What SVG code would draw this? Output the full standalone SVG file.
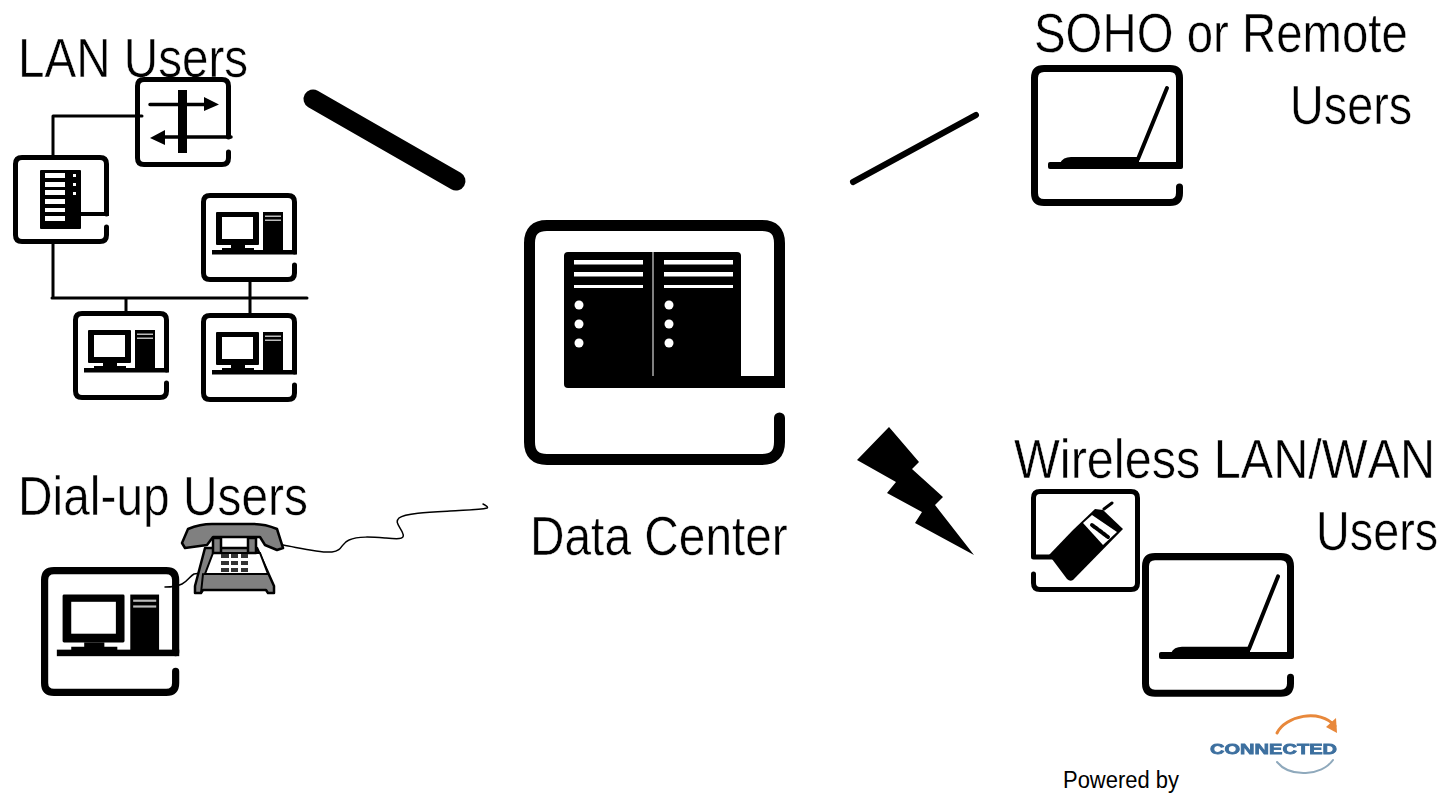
<svg xmlns="http://www.w3.org/2000/svg" width="1446" height="796" viewBox="0 0 1446 796">
<style>
text{font-family:"Liberation Sans",Arial,sans-serif;fill:#000;font-size:56px;font-kerning:none}
.t{stroke:#fff;stroke-width:.5}
.f{fill:none;stroke:#000;stroke-linecap:round;stroke-linejoin:round}
.k{fill:#000}
.w{fill:#fff}
.g{fill:#808080;stroke:#000;stroke-width:2.500;stroke-linejoin:round}
</style>
<defs>
<filter id="soft" x="-10%" y="-10%" width="120%" height="120%"><feGaussianBlur stdDeviation="0.6"/></filter>
<g id="pc">
<path class="f" stroke-width="5" d="M93.5 72V80Q93.5 86.5 87 86.5H9Q2.5 86.5 2.5 80V9Q2.5 2.5 9 2.5H87Q93.5 2.5 93.5 9V59"/>
<rect class="k" x="11" y="57" width="85" height="4.500"/>
<rect class="k" x="15" y="19" width="43" height="33" rx="1"/>
<rect class="w" x="21" y="24" width="31" height="22"/>
<rect class="k" x="62" y="19" width="20" height="40"/>
<rect x="64" y="22.500" width="16" height="1.500" fill="#bbb"/>
<rect x="64" y="26.500" width="16" height="1.500" fill="#bbb"/>
<rect class="k" x="30" y="52" width="14" height="6"/>
<rect class="k" x="21" y="55" width="32" height="3"/>
</g>
<g id="laptop">
<path class="f" stroke-width="7" d="M148.500 122V128Q148.500 137.500 139 137.500H13Q3.500 137.500 3.500 128V13Q3.500 3.500 13 3.500H139Q148.500 3.500 148.500 13V100"/>
<rect class="k" x="17" y="97" width="135" height="7" rx="2"/>
<path class="k" d="M29 98Q32 92 40 92H108V98Z"/>
<path class="f" stroke-width="4" stroke-linecap="butt" d="M107 94L136 23"/>
</g>
</defs>

<g id="connectors">
<path class="f" stroke-width="19" d="M313 99L456 181"/>
<path class="f" stroke-width="6" d="M853 182L976 115"/>
<path class="k" d="M889 427L919 462L912 469L943 497L935 505L974 555L915 523L922 512L887 493L896 482L857 460Z"/>
<path class="f" stroke-width="1.500" d="M283 545C300 548 320 553 332 552C343 551 341 543 349 540C358 536 372 537 385 538C396 539 405 540 403 534C401 527 394 523 399 518C405 513 430 512 450 511C465 510 480 510 487 508Q489 507 483 504"/>
<path class="f" stroke-width="1.500" d="M165 587C172 587 178 586 182 584C188 581 190 576 194 574L201 573"/>
<path class="f" stroke-width="3" stroke-linecap="butt" d="M142 116H53V155M53 244V298M52 298H307M126 298V311M250 282V313"/>
</g>

<g id="lan-users">
<text class="t" transform="translate(18 77) scale(.85 1)">LAN Users</text>
</g>

<g id="switch">
<path class="f" stroke-width="5" d="M228.500 152V158Q228.500 164.500 222 164.500H144Q137.500 164.500 137.500 158V86Q137.500 79.500 144 79.500H222Q228.500 79.500 228.500 86V137"/>
<rect class="k" x="178" y="90" width="9" height="63"/>
<path class="f" stroke-width="3.500" stroke-linecap="butt" d="M150 104.500H205M231 137H165"/>
<path class="k" d="M204 97L219 104.500L204 111ZM165 130L150 138L165 145Z"/>
</g>

<g id="server">
<path class="f" stroke-width="5" d="M106.500 227V235Q106.500 241.500 100 241.500H22Q15.500 241.500 15.500 235V164Q15.500 157.500 22 157.500H100Q106.500 157.500 106.500 164V214"/>
<rect class="k" x="40" y="170" width="41" height="59" rx="1"/>
<rect class="k" x="80" y="212" width="29" height="4"/>
<g class="w">
<rect x="45" y="173" width="20" height="5"/>
<rect x="45" y="182" width="20" height="5"/>
<rect x="45" y="190" width="20" height="5"/>
<rect x="45" y="199" width="20" height="5"/>
<rect x="45" y="208" width="20" height="4"/>
<rect x="45" y="216" width="20" height="5"/>
<rect x="73" y="174" width="3" height="3"/>
<rect x="73" y="183" width="3" height="3"/>
<rect x="73" y="192" width="3" height="3"/>
</g>
</g>

<use id="pc-1" href="#pc" transform="translate(201 193)"/>
<use id="pc-2" href="#pc" transform="translate(73 311)"/>
<use id="pc-3" href="#pc" transform="translate(201 313)"/>

<g id="data-center">
<path class="f" stroke-width="11" d="M779.500 418V442Q779.500 459.500 762 459.500H547Q529.500 459.500 529.500 442V243Q529.500 225.500 547 225.500H762Q779.500 225.500 779.500 243V382"/>
<rect class="k" x="564" y="252" width="177" height="136" rx="4"/>
<rect class="k" x="735" y="376" width="50" height="12"/>
<rect class="w" x="652.500" y="252" width="1" height="124"/>
<g class="w">
<rect x="574" y="260" width="69" height="4.500"/>
<rect x="574" y="272" width="69" height="4.500"/>
<rect x="574" y="285" width="69" height="3"/>
<rect x="664" y="260" width="69" height="4.500"/>
<rect x="664" y="272" width="69" height="4.500"/>
<rect x="664" y="285" width="69" height="3"/>
<circle cx="579" cy="305" r="4.500"/>
<circle cx="579" cy="324" r="4.500"/>
<circle cx="579" cy="343" r="4.500"/>
<circle cx="669" cy="305" r="4.500"/>
<circle cx="669" cy="324" r="4.500"/>
<circle cx="669" cy="343" r="4.500"/>
</g>
<text class="t" transform="translate(530 555) scale(.854 1)">Data Center</text>
</g>

<g id="soho">
<text class="t" transform="translate(1034 52) scale(.846 1)">SOHO or Remote</text>
<text class="t" transform="translate(1290 124) scale(.835 1)">Users</text>
<use href="#laptop" transform="translate(1031 65)"/>
</g>

<g id="dial-up">
<text class="t" transform="translate(18 515) scale(.855 1)">Dial-up Users</text>
<use href="#pc" transform="translate(41 567) scale(1.44 1.45)"/>
<path class="g" d="M205 548H257L274 586V593H268L266 590H203L201 593H195V586Z"/>
<path class="w" stroke="#000" stroke-width="2" d="M213 553H260L268 574H205Z"/>
<path class="f" stroke-width="2" d="M205 574H268M203 574L201 593"/>
<rect class="g" x="213" y="538" width="8" height="15"/>
<rect class="g" x="248" y="538" width="8" height="15"/>
<path class="g" d="M182 543L188 529Q200 524 212 524H253Q265 524 277 529L283 548L277 550L265 545L260 537H213L207 545L185 548Z"/>
<g fill="#333">
<rect x="221" y="554" width="8" height="4"/><rect x="231" y="554" width="7" height="4"/><rect x="241" y="554" width="7" height="4"/>
<rect x="221" y="561" width="8" height="4"/><rect x="231" y="561" width="7" height="4"/><rect x="241" y="561" width="7" height="4"/>
<rect x="221" y="568" width="8" height="4"/><rect x="231" y="568" width="7" height="4"/><rect x="241" y="568" width="7" height="4"/>
</g>
</g>

<g id="wireless">
<text class="t" transform="translate(1014 478) scale(.868 1)">Wireless LAN/WAN</text>
<text class="t" transform="translate(1316 550) scale(.835 1)">Users</text>
<path class="f" stroke-width="5" d="M1033.500 574V583Q1033.500 589.500 1040 589.500H1131Q1137.500 589.500 1137.500 583V498Q1137.500 491.500 1131 491.500H1040Q1033.500 491.500 1033.500 498V557H1054"/>
<path class="k" d="M1049 555L1073 530L1095 509L1103 510L1123 529L1073 580Q1070 582 1067 579Z"/>
<path class="f" stroke-width="3" stroke-linecap="butt" d="M1104 509L1112 503"/>
<path class="w" d="M1083 523L1092 515L1117 532L1103 545Z"/>
<path class="f" stroke-width="4" stroke-dasharray="3 1.500" stroke-linecap="butt" d="M1092 525L1108 537"/>
<use href="#laptop" transform="translate(1142 553) scale(1 1.02)"/>
</g>

<g id="powered-by">
<text x="1063" y="788" style="font-size:23px" textLength="116" lengthAdjust="spacingAndGlyphs">Powered by</text>
<g filter="url(#soft)">
<path class="f" style="stroke:#e8883a" stroke-width="3" d="M1277 733C1285 716 1320 708 1335 726"/>
<path d="M1336 718L1337 733L1326 727Z" fill="#e8883a"/>
<path class="f" style="stroke:#8fa9bc" stroke-width="2" d="M1277 762C1290 778 1322 776 1333 760"/>
<text x="1210" y="754" style="font-size:15px;font-weight:bold;fill:#3c6f9f;stroke:#3c6f9f;stroke-width:.8" textLength="127" lengthAdjust="spacingAndGlyphs">CONNECTED</text>
</g>
</g>
</svg>
